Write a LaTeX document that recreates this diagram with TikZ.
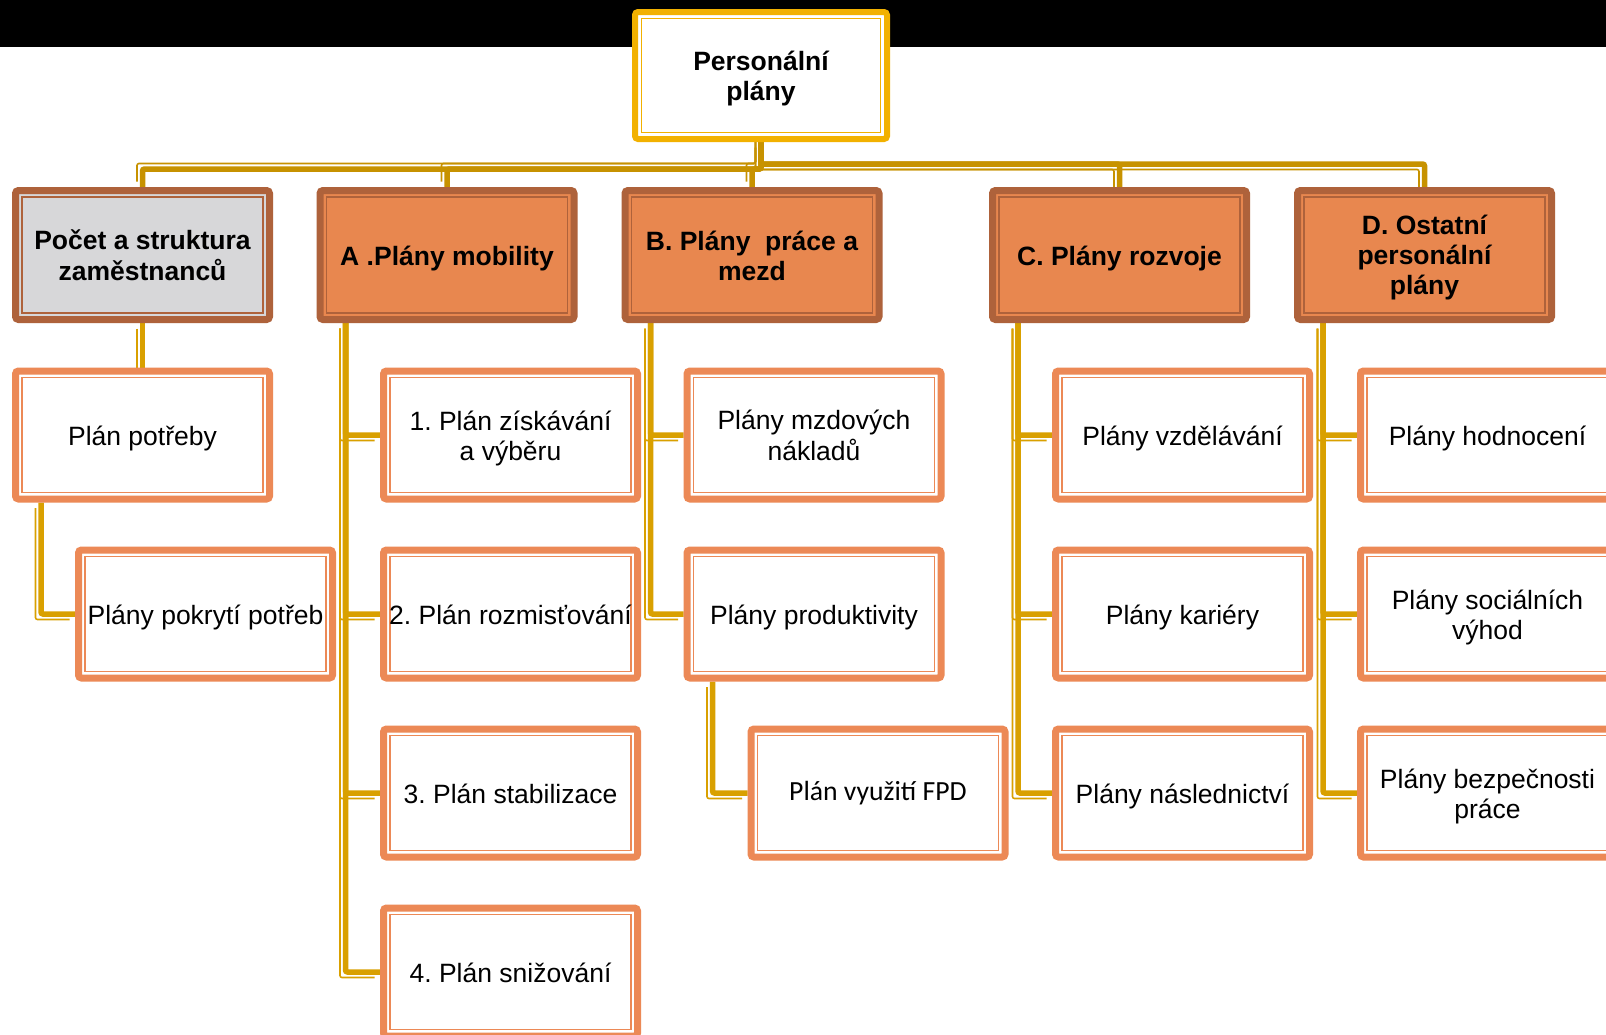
\documentclass[tikz,border=0pt]{standalone}
\usepackage{fontspec}
\setmainfont{Liberation Sans}
\newfontfamily\carlitofont{Carlito}
\usetikzlibrary{calc,backgrounds}
\frenchspacing
\definecolor{goldc}{HTML}{F2B100}
\definecolor{busc}{HTML}{C79200}
\definecolor{linkc}{HTML}{D9A000}
\definecolor{brownc}{HTML}{AE623B}
\definecolor{hdrfill}{HTML}{E8874F}
\definecolor{greyfill}{HTML}{D7D7D9}
\definecolor{childc}{HTML}{EC8956}
\newcommand\hdrfont{\fontsize{26.5pt}{30pt}\selectfont\bfseries}
\newcommand\childfont{\fontsize{26.5pt}{30pt}\selectfont}
\newcommand\tx[2][8pt]{\raisebox{0pt}[\dimexpr\height+#1\relax][\depth]{\begin{tabular}{@{}c@{}}#2\end{tabular}}}
\tikzset{
  innerline/.style={path picture={\draw[#1, line width=1.5pt, sharp corners]
      ($(path picture bounding box.south west)+(6.5pt,6.5pt)$) rectangle
      ($(path picture bounding box.north east)+(-6.5pt,-6.5pt)$);}},
  boxbase/.style={rectangle, rounded corners=3pt, line width=7pt, align=center,
      inner sep=0pt, text=black},
  topbox/.style={boxbase, draw=goldc, fill=white, line width=6pt,
      minimum width=252pt, minimum height=127pt, innerline=goldc, font=\hdrfont},
  hdrbox/.style={boxbase, draw=brownc, fill=hdrfill, minimum width=254pt,
      minimum height=129pt, innerline=brownc, font=\hdrfont},
  greybox/.style={hdrbox, fill=greyfill},
  childbox/.style={boxbase, draw=childc, fill=white, minimum width=254pt,
      minimum height=128pt, innerline=childc, font=\childfont},
  link/.style={draw=linkc, line width=5.5pt, rounded corners=2pt,
      preaction={draw=linkc, line width=1.6pt, rounded corners=2pt,
      transform canvas={shift={(-5.5pt,-5.5pt)}}}},
  busleft/.style={draw=busc, line width=5.5pt, rounded corners=2pt,
      preaction={draw=busc, line width=1.6pt, rounded corners=2pt,
      transform canvas={shift={(-5.5pt,5.5pt)}}}},
  busright/.style={draw=busc, line width=5.5pt, rounded corners=2pt,
      preaction={draw=busc, line width=1.6pt, rounded corners=2pt,
      transform canvas={shift={(-5.5pt,-5.5pt)}}}},
}
\begin{document}
\begin{tikzpicture}[x=1pt, y=-1pt]
\useasboundingbox (0,0) rectangle (1606,1034);
\clip (0,0) rectangle (1606,1034);
\fill[black] (0,0) rectangle (1606,47);
% top
\node[topbox] (top) at (761,75.5) {\tx{Personální\\plány}};
% headers
\node[greybox] (hP) at (142.5,255) {\tx{Počet a struktura\\zaměstnanců}};
\node[hdrbox] (hA) at (447,255) {\tx{A .Plány mobility}};
\node[hdrbox] (hB) at (752,255) {\tx{B. Plány\ \ práce a\\mezd}};
\node[hdrbox] (hC) at (1119.5,255) {\tx{C. Plány rozvoje}};
\node[hdrbox] (hD) at (1424.5,255) {\tx[6pt]{D. Ostatní\\personální\\plány}};
% column P
\node[childbox] (p1) at (142.5,435) {\tx{Plán potřeby}};
\node[childbox] (p2) at (205.5,614) {\tx{Plány pokrytí potřeb}};
% column A
\node[childbox] (a1) at (510.5,435) {\tx{1. Plán získávání\\a výběru}};
\node[childbox] (a2) at (510.5,614) {\tx{2. Plán rozmisťování}};
\node[childbox] (a3) at (510.5,793) {\tx{3. Plán stabilizace}};
\node[childbox] (a4) at (510.5,972) {\tx{4. Plán snižování}};
% column B
\node[childbox] (b1) at (814,435) {\tx{Plány mzdových\\nákladů}};
\node[childbox] (b2) at (814,614) {\tx{Plány produktivity}};
\node[childbox, font=\fontsize{27.7pt}{30pt}\carlitofont] (b3) at (878,793) {\tx[2pt]{Plán využití FPD}};
% column C
\node[childbox] (c1) at (1182.5,435) {\tx{Plány vzdělávání}};
\node[childbox] (c2) at (1182.5,614) {\tx{Plány kariéry}};
\node[childbox] (c3) at (1182.5,793) {\tx{Plány následnictví}};
% column D
\node[childbox] (d1) at (1487.5,435) {\tx{Plány hodnocení}};
\node[childbox] (d2) at (1487.5,614) {\tx{Plány sociálních\\výhod}};
\node[childbox] (d3) at (1487.5,793) {\tx{Plány bezpečnosti\\práce}};
\coordinate (busL) at (0,169);
\coordinate (busR) at (0,164);
\begin{scope}[on background layer]
\fill[white] (0,0) rectangle (1606,1034);
\fill[black] (0,0) rectangle (1606,47);
% bus
\draw[busleft] (top.south) |- (busL -| hP.north) -- (hP.north);
\draw[busleft] (top.south) |- (busL -| hA.north) -- (hA.north);
\draw[busleft] (top.south) |- (busL -| hB.north) -- (hB.north);
\draw[busright] (top.south) |- (busR -| hC.north) -- (hC.north);
\draw[busright] (top.south) |- (busR -| hD.north) -- (hD.north);
% column links
\draw[link] (hP.south) -- (p1.north);
\draw[link] ($(p1.south west)+(29,0)$) |- (p2.west);
\draw[link] ($(hA.south west)+(29,0)$) |- (a1.west);
\draw[link] ($(hA.south west)+(29,0)$) |- (a2.west);
\draw[link] ($(hA.south west)+(29,0)$) |- (a3.west);
\draw[link] ($(hA.south west)+(29,0)$) |- (a4.west);
\draw[link] ($(hB.south west)+(29,0)$) |- (b1.west);
\draw[link] ($(hB.south west)+(29,0)$) |- (b2.west);
\draw[link] ($(b2.south west)+(29,0)$) |- (b3.west);
\draw[link] ($(hC.south west)+(29,0)$) |- (c1.west);
\draw[link] ($(hC.south west)+(29,0)$) |- (c2.west);
\draw[link] ($(hC.south west)+(29,0)$) |- (c3.west);
\draw[link] ($(hD.south west)+(29,0)$) |- (d1.west);
\draw[link] ($(hD.south west)+(29,0)$) |- (d2.west);
\draw[link] ($(hD.south west)+(29,0)$) |- (d3.west);
\end{scope}
\end{tikzpicture}
\end{document}
